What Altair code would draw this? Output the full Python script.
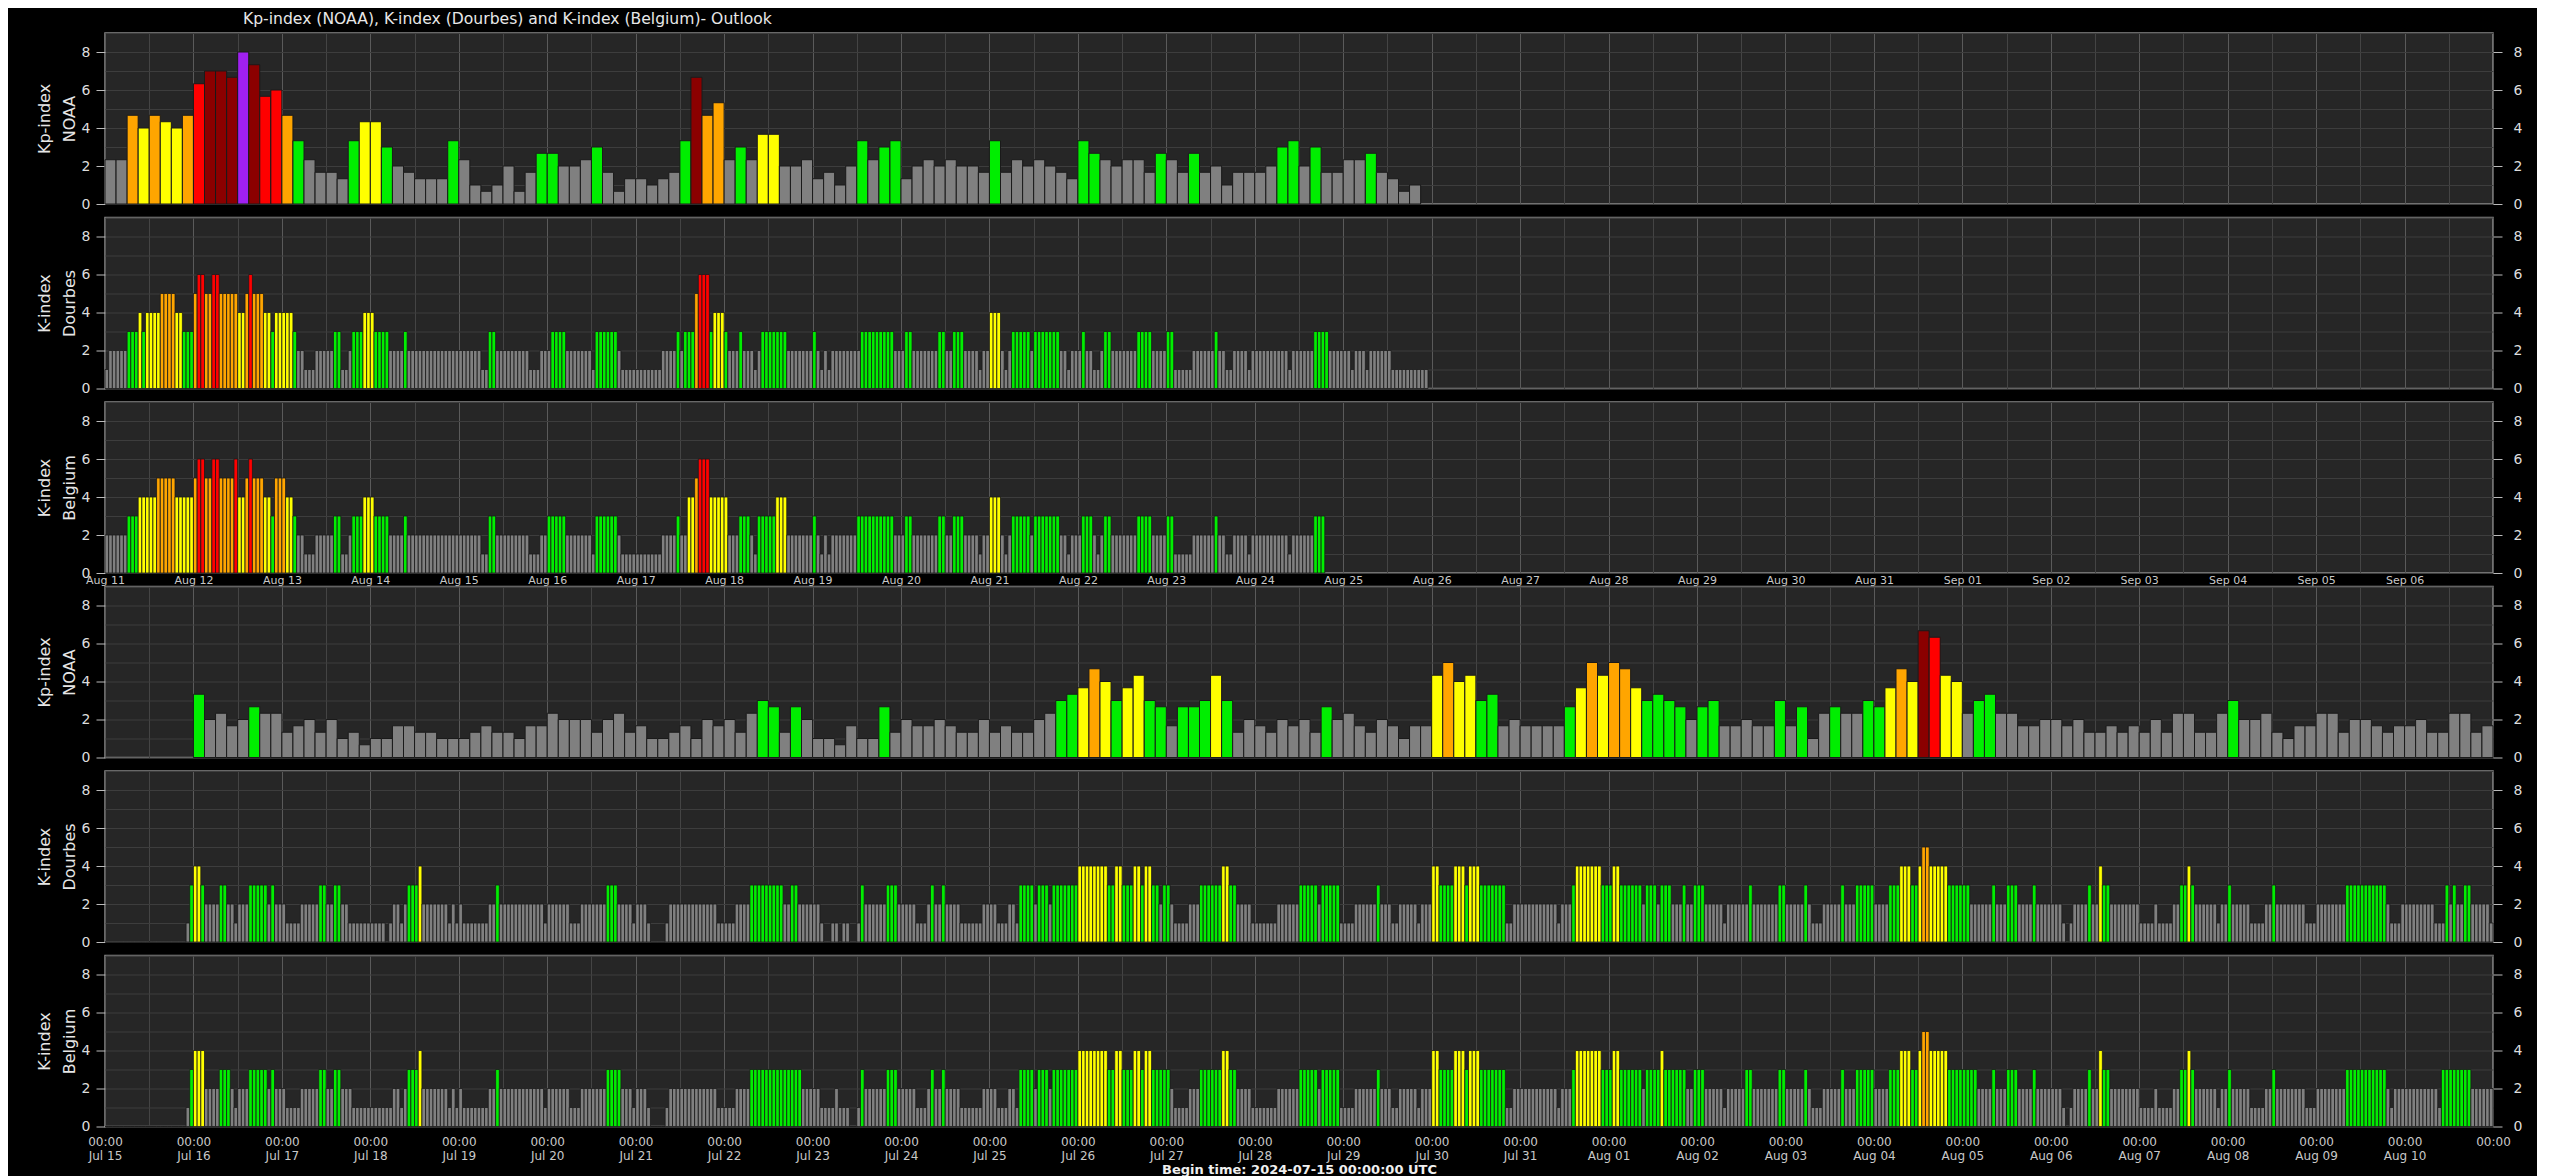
import altair as alt
import pandas as pd

alt.data_transformers.disable_max_rows()

HOUR = 3600 * 1000

# --- Kp-index (NOAA), 3-hourly, from 2024-08-11 00:00 UTC (upper block)
kp_upper = [
    2.33, 2.33, 4.67, 4.0, 4.67, 4.33, 4.0, 4.67,   # Aug 11
    6.33, 7.0, 7.0, 6.67, 8.0, 7.33, 5.67, 6.0,     # Aug 12
    4.67, 3.33, 2.33, 1.67, 1.67, 1.33, 3.33, 4.33,  # Aug 13
    4.33, 3.0, 2.0, 1.67, 1.33, 1.33, 1.33, 3.33,   # Aug 14
    2.33, 1.0, 0.67, 1.0, 2.0, 0.67, 1.67, 2.67,    # Aug 15
    2.67, 2.0, 2.0, 2.33, 3.0, 1.67, 0.67, 1.33,    # Aug 16
    1.33, 1.0, 1.33, 1.67, 3.33, 6.67, 4.67, 5.33,  # Aug 17
    2.33, 3.0, 2.33, 3.67, 3.67, 2.0, 2.0, 2.33,    # Aug 18
    1.33, 1.67, 1.0, 2.0, 3.33, 2.33, 3.0, 3.33,    # Aug 19
    1.33, 2.0, 2.33, 2.0, 2.33, 2.0, 2.0, 1.67,     # Aug 20
    3.33, 1.67, 2.33, 2.0, 2.33, 2.0, 1.67, 1.33,   # Aug 21
    3.33, 2.67, 2.33, 2.0, 2.33, 2.33, 1.67, 2.67,  # Aug 22
    2.33, 1.67, 2.67, 1.67, 2.0, 1.0, 1.67, 1.67,   # Aug 23
    1.67, 2.0, 3.0, 3.33, 2.0, 3.0, 1.67, 1.67,     # Aug 24
    2.33, 2.33, 2.67, 1.67, 1.33, 0.67, 1.0,        # Aug 25
]

# --- K-index, hourly, one string per day, from 2024-08-11 00:00 UTC
k_dourbes_upper = [
    "122222333434444555544333",  # Aug 11
    "566556655555445655544344",
    "444322111222223311233344",
    "433332222322222222222222",
    "222222113322222222211122",
    "233332222222133333321111",
    "111111122223233356663444",
    "322232221233333332222222",
    "321212222222233333333322",
    "233222222233223332222122",
    "444212333332333333322122",
    "232211233222222233332222",
    "331111122222232211222212",
    "222222222122222233332222",
    "22122212222221111111111",   # Aug 25
]
k_belgium_upper = [
    "222222333444445555544444",  # Aug 11
    "566556655556445655544355",
    "544322111222223311233344",
    "433332222322222222222222",
    "222222113322222222211122",
    "333332222222133333321111",
    "111111122223224456664444",
    "422233321333334442222222",
    "321212222222333333333322",
    "233222222233223332222122",
    "444212333332333333322122",
    "233321233222222233332222",
    "331111122222232211222212",
    "2222222221222222333",       # Aug 24
]

# --- Kp-index (NOAA), 3-hourly, from 2024-07-16 00:00 UTC (lower block)
kp_lower = [
    3.33, 2.0, 2.33, 1.67, 2.0, 2.67, 2.33, 2.33,   # Jul 16
    1.33, 1.67, 2.0, 1.33, 2.0, 1.0, 1.33, 0.67,    # Jul 17
    1.0, 1.0, 1.67, 1.67, 1.33, 1.33, 1.0, 1.0,     # Jul 18
    1.0, 1.33, 1.67, 1.33, 1.33, 1.0, 1.67, 1.67,   # Jul 19
    2.33, 2.0, 2.0, 2.0, 1.33, 2.0, 2.33, 1.33,     # Jul 20
    1.67, 1.0, 1.0, 1.33, 1.67, 1.0, 2.0, 1.67,     # Jul 21
    2.0, 1.33, 2.33, 3.0, 2.67, 1.33, 2.67, 2.0,    # Jul 22
    1.0, 1.0, 0.67, 1.67, 1.0, 1.0, 2.67, 1.33,     # Jul 23
    2.0, 1.67, 1.67, 2.0, 1.67, 1.33, 1.33, 2.0,    # Jul 24
    1.33, 1.67, 1.33, 1.33, 2.0, 2.33, 3.0, 3.33,   # Jul 25
    3.67, 4.67, 4.0, 3.0, 3.67, 4.33, 3.0, 2.67,    # Jul 26
    1.67, 2.67, 2.67, 3.0, 4.33, 3.0, 1.33, 2.0,    # Jul 27
    1.67, 1.33, 2.0, 1.67, 2.0, 1.33, 2.67, 2.0,    # Jul 28
    2.33, 1.67, 1.33, 2.0, 1.67, 1.0, 1.67, 1.67,   # Jul 29
    4.33, 5.0, 4.0, 4.33, 3.0, 3.33, 1.67, 2.0,     # Jul 30
    1.67, 1.67, 1.67, 1.67, 2.67, 3.67, 5.0, 4.33,  # Jul 31
    5.0, 4.67, 3.67, 3.0, 3.33, 3.0, 2.67, 2.0,     # Aug 01
    2.67, 3.0, 1.67, 1.67, 2.0, 1.67, 1.67, 3.0,    # Aug 02
    1.67, 2.67, 1.0, 2.33, 2.67, 2.33, 2.33, 3.0,   # Aug 03
    2.67, 3.67, 4.67, 4.0, 6.67, 6.33, 4.33, 4.0,   # Aug 04
    2.33, 3.0, 3.33, 2.33, 2.33, 1.67, 1.67, 2.0,   # Aug 05
    2.0, 1.67, 2.0, 1.33, 1.33, 1.67, 1.33, 1.67,   # Aug 06
    1.33, 2.0, 1.33, 2.33, 2.33, 1.33, 1.33, 2.33,  # Aug 07
    3.0, 2.0, 2.0, 2.33, 1.33, 1.0, 1.67, 1.67,     # Aug 08
    2.33, 2.33, 1.33, 2.0, 2.0, 1.67, 1.33, 1.67,   # Aug 09
    1.67, 2.0, 1.33, 1.33, 2.33, 2.33, 1.33, 1.67,  # Aug 10
]

# --- K-index, hourly, one string per day, from 2024-07-15 00:00 UTC
k_dourbes_lower = [
    "000000000000000000000013",  # Jul 15
    "443222233221222333332322",
    "211112222233223322111111",
    "111101221233342222222121",
    "211111112232222222222221",
    "222222111222222233322221",
    "222100001222222222222211",
    "111222233333333322332222",
    "221001101100132222223332",
    "222211123223222211111122",
    "221112213333233323333333",
    "444444443344333443443323",
    "321111222333333443322221",
    "111111222222333332333331",
    "111222222322211222221222",
    "443333444344433333331122",
    "222222222212223444444433",  # Jul 31
    "344333333233323332223223",
    "332222212222223222222233",
    "222223211122222322233333",
    "222233344433455444443333",
    "332222223222333222232222",
    "222101222232243322222222",
    "111121111223343222222122",
    "322222111122322222222111",
    "222222223333333333321112",
    "222222221113232233222221",  # Aug 10
]
k_belgium_lower = [
    "000000000000000000000013",  # Jul 15
    "444222233321222333332322",
    "211112222233223322211111",
    "111111221233342222222121",
    "211111112232222222222221",
    "222222111222222233332221",
    "222100001222222222222211",
    "111222233333333333333222",
    "221111211100132222223332",
    "222211123223222211111122",
    "221112213333233323333333",
    "444444443344333443443333",
    "321111222333333443322221",
    "111111222222333332333331",
    "111222222322211222221222",
    "443333444344433333331122",
    "222222222212223444444433",  # Jul 31
    "344333333233334333333223",
    "332222212222233222222233",
    "222223211122222322233333",
    "222233344433455444443333",
    "333322223222333222232222",
    "222101222232243322222222",
    "111121111223343222222122",
    "322222111122322222222111",
    "222222223333333333321222",
    "222222222133333333222222",  # Aug 10
]

LEVEL_COLORS = ["#808080", "#808080", "#808080", "#00ee00", "#ffff00",
                "#ffa500", "#ff0000", "#8b0000", "#a020f0"]


def utc_ms(s):
    return int(pd.Timestamp(s, tz="UTC").timestamp() * 1000)


UP_START, UP_END = utc_ms("2024-08-11"), utc_ms("2024-09-07")
LO_START, LO_END = utc_ms("2024-07-15"), utc_ms("2024-08-11")


def to_frame(values, start, step):
    df = pd.DataFrame({"value": [float(v) for v in values]})
    df["t0"] = start + df.index * step
    df["t1"] = df["t0"] + step
    df["level"] = df["value"].round().clip(upper=8).astype(int)
    return df


def digits(days):
    return [int(c) for c in "".join(days)]


W, H = 2388, 171

y_tick_color = {"condition": {"test": "datum.value % 2 == 0", "value": "#bbbbbb"},
                "value": "transparent"}
y_labels = "datum.value % 2 == 0 ? datum.label : ''"
x_grid_color = {"condition": {"test": "utchours(datum.value) == 0", "value": "#5a5a5a"},
                "value": "#444444"}


def half_days(start):
    return [start + i * 12 * HOUR for i in range(55)]


def x_axis(start, mode):
    common = dict(values=half_days(start), ticks=False, domain=False,
                  gridColor=x_grid_color, gridWidth=1, labelOverlap=False,
                  labelFlush=False, labelBound=False)
    if mode == "none":
        return alt.Axis(labels=False, title=None, **common)
    if mode == "upper":
        return alt.Axis(
            labelExpr=f"utchours(datum.value) == 0 && datum.value < {UP_END} ? utcFormat(datum.value, '%b %d') : ''",
            labelFontSize=11, labelColor="#c8c8c8", labelPadding=1, title=None, **common)
    return alt.Axis(
        labelExpr=(f"utchours(datum.value) != 0 ? '' : (datum.value >= {LO_END} ? '00:00' : "
                   "['00:00', utcFormat(datum.value, '%b %d')])"),
        labelFontSize=12, labelColor="#c8c8c8", labelPadding=10, labelLineHeight=14,
        title="Begin time: 2024-07-15 00:00:00 UTC", titleFontSize=13,
        titleFontWeight="bold", titleColor="#f0f0f0", titlePadding=2, **common)


def panel(df, title, start, end, mode, stroke_w):
    xs = alt.X("t0:T", scale=alt.Scale(type="utc", domain=[start, end], nice=False),
               axis=x_axis(start, mode))
    yscale = alt.Scale(domain=[0, 9], nice=False)
    bars = alt.Chart(df).mark_rect(stroke="#1a1a1a", strokeWidth=stroke_w).encode(
        x=xs,
        x2="t1:T",
        y=alt.Y("value:Q", scale=yscale, axis=alt.Axis(
            values=list(range(10)), labelExpr=y_labels, tickColor=y_tick_color,
            tickSize=9, domain=False, gridColor="#3d3d3d", labelFontSize=14,
            labelColor="#dddddd", labelPadding=6, title=title, titleFontSize=16,
            titleFontWeight="normal", titleColor="#e6e6e6", titlePadding=4,
            titleLineHeight=25)),
        y2=alt.datum(0),
        color=alt.Color("level:N", scale=alt.Scale(domain=list(range(9)), range=LEVEL_COLORS),
                        legend=None),
    )
    right = alt.Chart(df).mark_rect(opacity=0).encode(
        x=xs,
        x2="t1:T",
        y=alt.Y("value:Q", scale=yscale, axis=alt.Axis(
            orient="right", values=list(range(10)), labelExpr=y_labels,
            tickColor=y_tick_color, tickSize=9, domain=False, grid=False,
            labelFontSize=14, labelColor="#dddddd", labelPadding=11, title=None)),
        y2=alt.datum(0),
    )
    return alt.layer(bars, right).resolve_scale(y="independent").properties(width=W, height=H)


panels = [
    panel(to_frame(kp_upper, UP_START, 3 * HOUR), ["Kp-index", "NOAA"], UP_START, UP_END, "none", 1),
    panel(to_frame(digits(k_dourbes_upper), UP_START, HOUR), ["K-index", "Dourbes"], UP_START, UP_END, "none", 0.8),
    panel(to_frame(digits(k_belgium_upper), UP_START, HOUR), ["K-index", "Belgium"], UP_START, UP_END, "upper", 0.8),
    panel(to_frame(kp_lower, utc_ms("2024-07-16"), 3 * HOUR), ["Kp-index", "NOAA"], LO_START, LO_END, "none", 1),
    panel(to_frame(digits(k_dourbes_lower), LO_START, HOUR), ["K-index", "Dourbes"], LO_START, LO_END, "none", 0.8),
    panel(to_frame(digits(k_belgium_lower), LO_START, HOUR), ["K-index", "Belgium"], LO_START, LO_END, "lower", 0.8),
]

chart = (
    alt.vconcat(*panels, spacing=13.5, bounds="flush")
    .properties(
        title=alt.TitleParams(
            "Kp-index (NOAA), K-index (Dourbes) and K-index (Belgium)- Outlook",
            anchor="start", frame="group", dx=138, fontSize=15.6, fontWeight="normal",
            color="#e8e8e8", offset=4),
        background="#000000",
        padding={"left": 27, "top": 4, "right": 14, "bottom": 2},
    )
    .configure(font="DejaVu Sans")
    .configure_view(fill="#262626", stroke="#8a8a8a", strokeWidth=1.5)
)

chart.save("out.html", embed_options={"renderer": "svg", "actions": False})
